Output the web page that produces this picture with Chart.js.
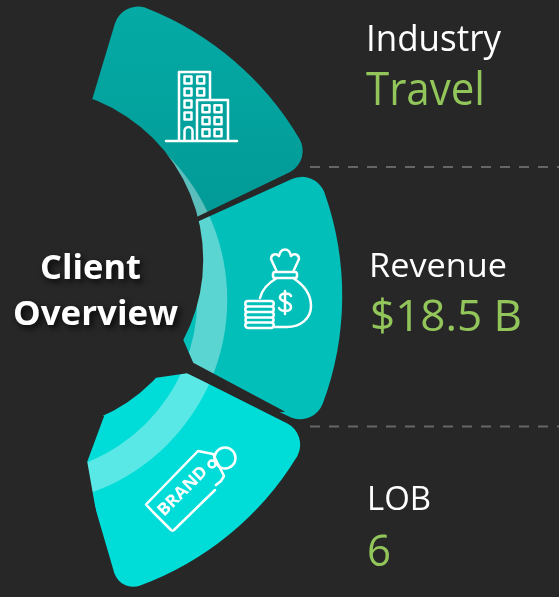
<!DOCTYPE html>
<html>
<head>
<meta charset="utf-8">
<style>
html,body{margin:0;padding:0;width:559px;height:597px;overflow:hidden;background:#272727}
#wrap{position:relative;width:559px;height:597px;overflow:hidden}
#c{position:absolute;left:-286px;top:-27px}
#ov{position:absolute;left:0;top:0}
.lbl{font-family:"Open Sans",sans-serif;fill:#fff}
.val{font-family:"Open Sans",sans-serif;fill:#92C65A}
.ttl{font-family:"Open Sans",sans-serif;font-weight:700;fill:#fff;filter:drop-shadow(3px 3px 3px rgba(0,0,0,.8))}
.ic{fill:none;stroke:#fff;stroke-width:2.5;stroke-linecap:round;stroke-linejoin:round}
</style>
<script src="https://cdn.jsdelivr.net/npm/chart.js@4"></script>
</head>
<body>
<div id="wrap">
<canvas id="c" width="640" height="640"></canvas>
<svg id="ov" width="559" height="597" xmlns="http://www.w3.org/2000/svg"></svg>
</div>
<script>
const categories = ["Industry", "Revenue", "LOB"];
const valueLabels = ["Travel", "$18.5 B", "6"];
const segmentSizes = [49, 51, 48.4];
const baseColors = ["#03A6A1", "#02BFBA", "#00DDD8"];
const titleLines = ["Client", "Overview"];

const CX = 33, CY = 296;
const holePlugin = {
  id: "hole",
  afterDatasetsDraw(chart) {
    const a = chart.getDatasetMeta(0).data[0];
    const ctx = chart.ctx;
    ctx.save();
    ctx.translate(a.x - CX, a.y - CY);
    // translucent highlight band, painted only on top of the segments
    ctx.globalCompositeOperation = "source-atop";
    ctx.fillStyle = "rgba(255,255,255,0.35)";
    ctx.beginPath();
    ctx.arc(22, 300, 205, 0, Math.PI * 2);
    ctx.arc(22, 300, 175, 0, Math.PI * 2, true);
    ctx.fill();
    ctx.globalCompositeOperation = "source-over";
    ctx.fillStyle = "#272727";
    ctx.beginPath();
    ctx.arc(31, 260, 172, 0, Math.PI * 2);
    ctx.fill();
    ctx.beginPath();
    ctx.moveTo(183, 340); ctx.lineTo(193, 363); ctx.lineTo(285, 412); ctx.lineTo(270, 413); ctx.lineTo(187, 373.5); ctx.lineTo(156, 378); ctx.lineTo(150, 350);
    ctx.closePath(); ctx.fill();
    ctx.beginPath();
    ctx.moveTo(104, 416); ctx.lineTo(87, 462); ctx.lineTo(104, 558); ctx.lineTo(60, 558); ctx.lineTo(60, 420);
    ctx.closePath(); ctx.fill();
    ctx.restore();
  }
};

function baseColor(c) {
  if (c.dataIndex === 0 && c.chart.chartArea) {
    const g = c.chart.ctx.createLinearGradient(0, 24, 0, 240);
    g.addColorStop(0, "#05ABA6");
    g.addColorStop(1, "#029A96");
    return g;
  }
  return baseColors[c.dataIndex];
}

const chart = new Chart(document.getElementById("c"), {
  type: "doughnut",
  data: {
    labels: categories,
    datasets: [
      { data: segmentSizes, backgroundColor: baseColor, borderWidth: 0,
        borderRadius: c => ({ outerStart: 24, outerEnd: c.dataIndex === 2 ? 20 : 24, innerStart: 0, innerEnd: 0 }) }
    ]
  },
  options: {
    responsive: false,
    animation: false,
    rotation: 16,
    circumference: 148.4,
    radius: 303,
    cutout: 110,
    spacing: 12,
    layout: { padding: 0 },
    plugins: { legend: { display: false }, tooltip: { enabled: false } }
  },
  plugins: [holePlugin]
});
const arc0 = chart.getDatasetMeta(0).data[0];
const cv = document.getElementById("c");
cv.style.left = (CX - arc0.x) + "px";
cv.style.top = (CY - arc0.y) + "px";

const NS = "http://www.w3.org/2000/svg";
const ov = document.getElementById("ov");
function el(name, attrs, text) {
  const e = document.createElementNS(NS, name);
  for (const k in attrs) e.setAttribute(k, attrs[k]);
  if (text !== undefined) e.textContent = text;
  ov.appendChild(e);
  return e;
}
function txt(cls, s, x, y, size, len) {
  el("text", { class: cls, x, y, "font-size": size, textLength: len, lengthAdjust: "spacingAndGlyphs" }, s);
}
[167, 426.5].forEach(y => el("line", { x1: 310, y1: y, x2: 559, y2: y, stroke: "#666", "stroke-width": 2, "stroke-dasharray": "10 9" }));

txt("lbl", categories[0], 366, 51, 36, 135);
txt("val", valueLabels[0], 366, 105, 46, 119);
txt("lbl", categories[1], 369, 277, 33, 138);
txt("val", valueLabels[1], 370, 331, 44, 152);
txt("lbl", categories[2], 367, 510, 33, 64);
txt("val", valueLabels[2], 367, 566, 44, 24);
txt("ttl", titleLines[0], 40, 279, 34, 101);
txt("ttl", titleLines[1], 13, 325, 34, 165);

// building icon
el("path", { class: "ic", d: "M166 141H237M179 141V72H210V100M197 141V100H228V141M184.5 141V131a4 4 0 0 1 8 0V141" });
[[188,80],[200.7,80],[188,92],[200.7,92],[188,104],[188,116],[206,108.7],[218,108.7],[206,120.7],[218,120.7],[206,132.7],[218,132.7]]
  .forEach(p => el("rect", { class: "ic", x: p[0]-3.5, y: p[1]-3.5, width: 7, height: 7 }));

// money bag icon
el("path", { class: "ic", d: "M273 273.5a2 2 0 0 1 2-1.5H295a2 2 0 0 1 2 1.5V276a2 2 0 0 1-2 2H275a2 2 0 0 1-2-2ZM277 272L271 259c0-5 5-6 8-3 1-5 4-6.500 6-6.500s5 1.500 6 6.500c3-3 8-2 8 3L293 272M277 278C268 283 262 290 260 298M293 278C304 285 311 295 311 306C311 319 300 327 287 327H273" });
el("path", { class: "ic", d: "M291 296c-1-3-10-4-11 1c-1 5 11 4 11 10c0 5-10 5-12 1M285 291V314" });
el("path", { class: "ic", d: "M248 301H271a2.700 2.700 0 0 1 0 5.500H248a2.700 2.700 0 0 1 0-5.500ZM248 306.500H271a2.700 2.700 0 0 1 0 5.500H248a2.700 2.700 0 0 1 0-5.500ZM248 312H271a2.700 2.700 0 0 1 0 5.500H248a2.700 2.700 0 0 1 0-5.500ZM248 317.500H271a2.500 2.500 0 0 1 0 5H248a2.500 2.500 0 0 1 0-5ZM248 322.500H271a2.700 2.700 0 0 1 0 5.500H248a2.700 2.700 0 0 1 0-5.500Z" });

// brand tag icon
el("path", { class: "ic", d: "M153 512L146 504.500L198 451L213 454L224 476L221 481L216 485M215 490L174 530a2 2 0 0 1-3 0L153 512" });
el("circle", { class: "ic", cx: 225, cy: 458, r: 10.500 });
el("circle", { class: "ic", cx: 212, cy: 464, r: 3.500 });
el("text", { x: 0, y: 0, "font-family": "Open Sans, sans-serif", "font-weight": 700, "font-size": 17, fill: "#fff", transform: "translate(164,517) rotate(-45)", textLength: 63, lengthAdjust: "spacingAndGlyphs" }, "BRAND");
</script>
</body>
</html>
